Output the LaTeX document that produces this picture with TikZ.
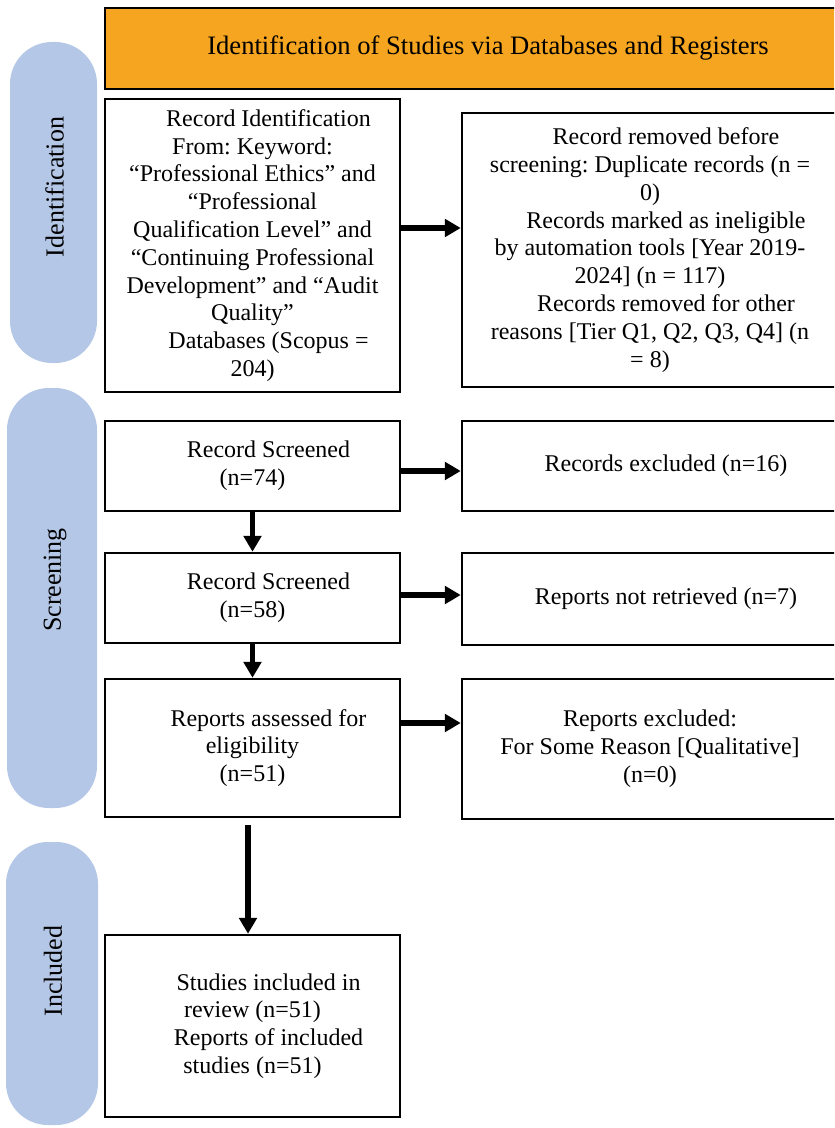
\documentclass[tikz,border=0pt]{standalone}
\usepackage{fontspec}
\setmainfont{Liberation Serif}
\usetikzlibrary{arrows.meta}
\definecolor{headorange}{RGB}{245,165,32}
\definecolor{pillblue}{RGB}{180,199,231}
\newcommand{\ind}{\hspace*{16pt}}
\frenchspacing

\begin{document}
\begin{tikzpicture}[x=0.5pt, y=-0.5pt,
    box/.style={draw, line width=1.25pt, align=center, inner sep=0pt, font=\fontsize{12}{13.9}\selectfont},
    pill/.style={fill=pillblue, rounded corners=21pt},
    phase/.style={rotate=90, font=\fontsize{13}{15}\selectfont},
    arr/.style={line width=2.75pt, -{Triangle[length=8pt, width=8.75pt]}}]
  \useasboundingbox (0, 0) rectangle (834, 1128);
  \clip (0, 0) rectangle (834, 1128);
  \node [pill, minimum width=43.5pt, minimum height=160.5pt] (idpill) at (53.5, 202.5) {};
  \node [pill, minimum width=45pt, minimum height=210pt] (scrpill) at (52, 598) {};
  \node [pill, minimum width=46pt, minimum height=141.5pt] (incpill) at (52, 983.5) {};
  \node [phase] (idlab) at (54.5, 187) {Identification};
  \node [phase] (scrlab) at (55, 580) {Screening};
  \node [phase] (inclab) at (53, 971) {Included};
  \node [draw, line width=1pt, fill=headorange, minimum width=383pt, minimum height=40.5pt,
    font=\fontsize{13.3}{15}\selectfont] (head) at (488, 48.5)
    {Identification of Studies via Databases and Registers};
  \node [box, minimum width=147.5pt, minimum height=146.5pt] (ident) at (252.5, 245.5)
    {\ind Record Identification\\From: Keyword:\\“Professional Ethics” and\\“Professional\\Qualification Level” and\\“Continuing Professional\\Development” and “Audit\\Quality”\\\ind Databases (Scopus =\\204)};
  \node [box, minimum width=188pt, minimum height=137pt] (removed) at (650, 250)
    {\ind Record removed before\\screening: Duplicate records (n =\\0)\\\ind Records marked as ineligible\\by automation tools [Year 2019-\\2024] (n = 117)\\\ind Records removed for other\\reasons [Tier Q1, Q2, Q3, Q4] (n\\= 8)};
  \node [box, minimum width=147.5pt, minimum height=45pt] (screen1) at (252.5, 466)
    {\ind Record Screened\\(n=74)};
  \node [box, minimum width=188pt, minimum height=45pt] (excl1) at (650, 466)
    {\ind Records excluded (n=16)};
  \node [box, minimum width=147.5pt, minimum height=45pt] (screen2) at (252.5, 598)
    {\ind Record Screened\\(n=58)};
  \node [box, minimum width=188pt, minimum height=46pt] (notret) at (650, 599)
    {\ind Reports not retrieved (n=7)};
  \node [box, minimum width=147.5pt, minimum height=69pt] (assess) at (252.5, 748)
    {\ind Reports assessed for\\eligibility\\(n=51)};
  \node [box, minimum width=188pt, minimum height=70pt] (repexcl) at (650, 749)
    {Reports excluded:\\For Some Reason [Qualitative]\\(n=0)};
  \node [box, minimum width=147.5pt, minimum height=91pt] (incl) at (252.5, 1026)
    {\ind Studies included in\\review (n=51)\\\ind Reports of included\\studies (n=51)};
  \draw [arr] ([yshift=8.75pt]ident.east) -- ([yshift=11pt]removed.west);
  \draw [arr] ([yshift=-2.5pt]screen1.east) -- ([yshift=-2.5pt]excl1.west);
  \draw [arr] ([yshift=1.5pt]screen2.east) -- ([yshift=2pt]notret.west);
  \draw [arr] ([yshift=12.5pt]assess.east) -- ([yshift=13pt]repexcl.west);
  \draw [arr] (screen1) -- (screen2);
  \draw [arr] (screen2) -- (assess);
  \draw [arr, shorten <=3.5pt] ([xshift=-2.25pt]assess.south) -- ([xshift=-2.25pt]incl.north);
\end{tikzpicture}
\end{document}
